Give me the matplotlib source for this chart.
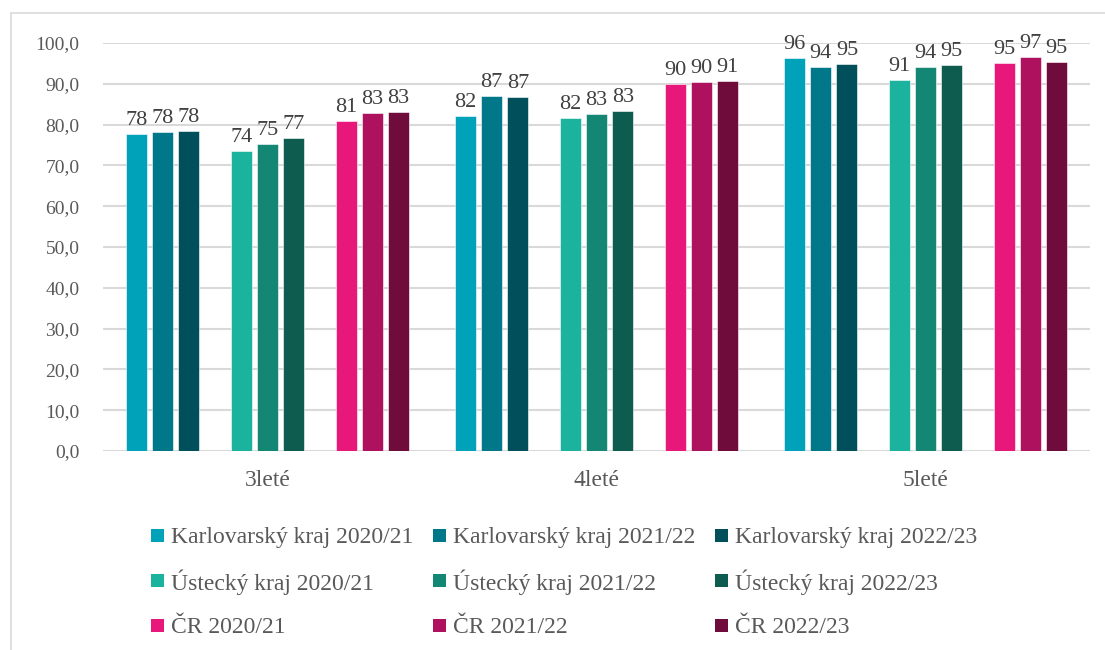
import matplotlib
matplotlib.use("Agg")
import matplotlib.pyplot as plt
import numpy as np
from matplotlib.patches import Rectangle

categories = ["3leté", "4leté", "5leté"]
series_names = [
    "Karlovarský kraj 2020/21", "Karlovarský kraj 2021/22", "Karlovarský kraj 2022/23",
    "Ústecký kraj 2020/21", "Ústecký kraj 2021/22", "Ústecký kraj 2022/23",
    "ČR 2020/21", "ČR 2021/22", "ČR 2022/23",
]
karl_2021 = [77.7, 82.0, 96.3]
karl_2122 = [78.2, 86.9, 94.1]
karl_2223 = [78.4, 86.8, 94.8]
ust_2021 = [73.6, 81.5, 91.0]
ust_2122 = [75.3, 82.7, 94.1]
ust_2223 = [76.6, 83.4, 94.6]
cr_2021 = [80.8, 89.9, 95.0]
cr_2122 = [82.9, 90.4, 96.6]
cr_2223 = [83.0, 90.6, 95.4]
series_values = [karl_2021, karl_2122, karl_2223, ust_2021, ust_2122, ust_2223,
                 cr_2021, cr_2122, cr_2223]
colors = ["#00A2B9", "#00788A", "#004F5A",
          "#1BB39D", "#148674", "#0E5B50",
          "#E8177A", "#AE125E", "#700C3C"]
yticks = np.arange(0, 101, 10)

FONT = ["Liberation Serif", "DejaVu Serif"]
plt.rcParams["font.family"] = FONT

W, H = 1105, 650
fig = plt.figure(figsize=(W/100, H/100), dpi=100)
ax = fig.add_axes([103/W, 1-451/H, (1090-103)/W, (451-43)/H])

slots = [0, 1, 2, 4, 5, 6, 8, 9, 10]
slot_w = 26.2/329
bar_w = 21/329
x = np.arange(len(categories))
for i, (vals, col) in enumerate(zip(series_values, colors)):
    off = (slots[i] - 5) * slot_w
    ax.bar(x + off, vals, width=bar_w, color=col, edgecolor="white",
           linewidth=0.4, zorder=3, label=series_names[i])
    for xi, v in zip(x + off, vals):
        ax.text(xi, v + 1.0, f"{round(v):d}", ha="center", va="bottom",
                fontsize=16, color="#404040", clip_on=False, zorder=4)

ax.set_xlim(-0.5, 2.5)
ax.set_ylim(0, 100)
ax.set_yticks(yticks)
ax.set_yticklabels([f"{t:.1f}".replace(".", ",") for t in yticks])
ax.set_xticks(x)
ax.set_xticklabels(categories)
ax.tick_params(axis="y", length=0, pad=17, labelsize=14, labelcolor="#595959")
ax.tick_params(axis="x", length=0, pad=14, labelsize=17, labelcolor="#595959")
ax.yaxis.grid(True, color="#D9D9D9", linewidth=1.5, zorder=0)
for s in ax.spines.values():
    s.set_visible(False)

# outer chart frame
fig.patches.append(Rectangle((11/W, -0.01), 1.2, 1-13/H+0.01, transform=fig.transFigure,
                             fill=False, edgecolor="#D9D9D9", linewidth=1.2))

# legend (3 x 3, row-wise)
col_x = [151, 433, 715]
row_y = [535, 580, 625]
msz = 13
for i, (name, col) in enumerate(zip(series_names, colors)):
    r, c = divmod(i, 3)
    mx, my = col_x[c], row_y[r]
    fig.patches.append(Rectangle((mx/W, 1-(my+msz/2)/H), msz/W, msz/H,
                                 transform=fig.transFigure, facecolor=col,
                                 edgecolor="none"))
    fig.text((mx+msz+7)/W, 1-my/H, name, ha="left", va="center_baseline",
             fontsize=17, color="#595959")

fig.savefig("out.png", dpi=100, facecolor="white")
